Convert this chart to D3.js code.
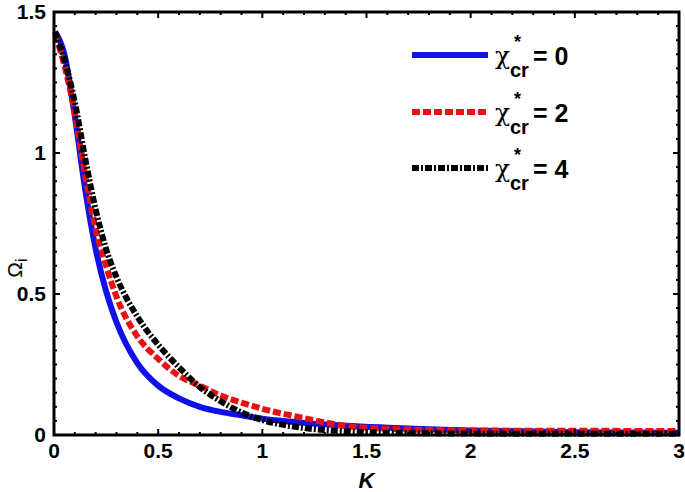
<!DOCTYPE html>
<html>
<head>
<meta charset="utf-8">
<script src="https://cdn.jsdelivr.net/npm/d3@7"></script>
<style>
  body { margin: 0; background: #fff; }
  svg { display: block; font-family: "Liberation Sans", Arial, sans-serif; }
</style>
</head>
<body>
<svg id="svg" width="685" height="492"></svg>
<script>
// K grid shared by all curves
const kValues = [0.005, 0.05, 0.1, 0.15, 0.2, 0.25, 0.3, 0.4, 0.5, 0.6, 0.7, 0.8, 0.9, 1.0, 1.2, 1.4, 1.6, 1.8, 2.0, 2.5, 3.0];
const chi0 = [1.43, 1.35, 1.13, 0.87, 0.66, 0.51, 0.40, 0.255, 0.175, 0.13, 0.10, 0.082, 0.07, 0.058, 0.043, 0.033, 0.026, 0.02, 0.016, 0.01, 0.008];
const chi2 = [1.42, 1.31, 1.14, 0.92, 0.73, 0.60, 0.49, 0.35, 0.27, 0.21, 0.175, 0.14, 0.115, 0.093, 0.06, 0.032, 0.022, 0.018, 0.016, 0.015, 0.014];
const chi4 = [1.43, 1.33, 1.18, 0.98, 0.80, 0.66, 0.56, 0.42, 0.32, 0.24, 0.17, 0.12, 0.08, 0.053, 0.025, 0.013, 0.008, 0.006, 0.005, 0.004, 0.004];
const legendValues = ["0", "2", "4"];
const xTicks = [0, 0.5, 1, 1.5, 2, 2.5, 3];
const yTicks = [0, 0.5, 1, 1.5];

const series = [
  { vals: chi0, color: "#1010e8", dash: null },
  { vals: chi2, color: "#e81010", dash: "8,3" },
  { vals: chi4, color: "#000", dash: "7,2,2,2" }
];

const mLeft = 54, mRight = 679, mTop = 12, mBottom = 435;
const svg = d3.select("#svg");
const x = d3.scaleLinear().domain([0, 3]).range([mLeft, mRight]);
const y = d3.scaleLinear().domain([0, 1.5]).range([mBottom, mTop]);

// curves
const line = d3.line()
  .x(d => x(d[0]))
  .y(d => y(d[1]))
  .curve(d3.curveMonotoneX);

series.forEach(s => {
  svg.append("path")
    .attr("d", line(kValues.map((k, i) => [k, s.vals[i]])))
    .attr("fill", "none")
    .attr("stroke", s.color)
    .attr("stroke-width", 6)
    .attr("stroke-dasharray", s.dash);
});

// minor ticks
const minorX = d3.range(0, 3.001, 0.1);
const minorY = d3.range(0, 1.501, 0.05);
const tickG = svg.append("g").attr("stroke", "#000").attr("stroke-width", 2);
minorX.forEach(v => {
  const major = xTicks.some(t => Math.abs(t - v) < 1e-6);
  const len = major ? 6 : 3;
  tickG.append("line").attr("x1", x(v)).attr("x2", x(v)).attr("y1", mBottom).attr("y2", mBottom - len);
  tickG.append("line").attr("x1", x(v)).attr("x2", x(v)).attr("y1", mTop).attr("y2", mTop + len);
});
minorY.forEach(v => {
  const major = yTicks.some(t => Math.abs(t - v) < 1e-6);
  const len = major ? 6 : 3;
  tickG.append("line").attr("y1", y(v)).attr("y2", y(v)).attr("x1", mLeft).attr("x2", mLeft + len);
  tickG.append("line").attr("y1", y(v)).attr("y2", y(v)).attr("x1", mRight).attr("x2", mRight - len);
});

// frame
svg.append("rect")
  .attr("x", mLeft).attr("y", mTop)
  .attr("width", mRight - mLeft).attr("height", mBottom - mTop)
  .attr("fill", "none").attr("stroke", "#000").attr("stroke-width", 3);

// tick labels
svg.append("g").selectAll("text").data(xTicks).join("text")
  .attr("x", d => x(d)).attr("y", 458)
  .attr("text-anchor", "middle")
  .attr("font-size", 21).attr("font-weight", "bold")
  .text(d => d);
svg.append("g").selectAll("text").data(yTicks).join("text")
  .attr("x", 46).attr("y", d => y(d) + 7)
  .attr("text-anchor", "end")
  .attr("font-size", 21).attr("font-weight", "bold")
  .text(d => d);

// axis titles
svg.append("text")
  .attr("x", x(1.5)).attr("y", 488)
  .attr("text-anchor", "middle")
  .attr("font-size", 22).attr("font-style", "italic").attr("font-weight", "bold")
  .text("K");
svg.append("text")
  .attr("transform", "translate(22,268) rotate(-90)")
  .attr("text-anchor", "middle")
  .attr("font-size", 21)
  .html('Ω<tspan dy="5" font-size="16">i</tspan>');

// legend
const legendY = [55, 112, 168];
series.forEach((s, i) => {
  const ly = legendY[i];
  svg.append("line")
    .attr("x1", 412).attr("x2", 488).attr("y1", ly).attr("y2", ly)
    .attr("stroke", s.color).attr("stroke-width", 6)
    .attr("stroke-dasharray", s.dash);
  svg.append("text")
    .attr("x", 495).attr("y", ly + 9)
    .attr("font-family", "'DejaVu Serif', serif")
    .attr("font-size", 25)
    .text("χ");
  svg.append("text")
    .attr("x", 514).attr("y", ly - 7)
    .attr("font-size", 18).attr("font-weight", "bold")
    .text("*");
  svg.append("text")
    .attr("x", 510).attr("y", ly + 22)
    .attr("font-size", 20).attr("font-weight", "bold")
    .text("cr");
  svg.append("text")
    .attr("x", 533).attr("y", ly + 10)
    .attr("font-size", 25).attr("font-weight", "bold")
    .text("= " + legendValues[i]);
});
</script>
</body>
</html>
